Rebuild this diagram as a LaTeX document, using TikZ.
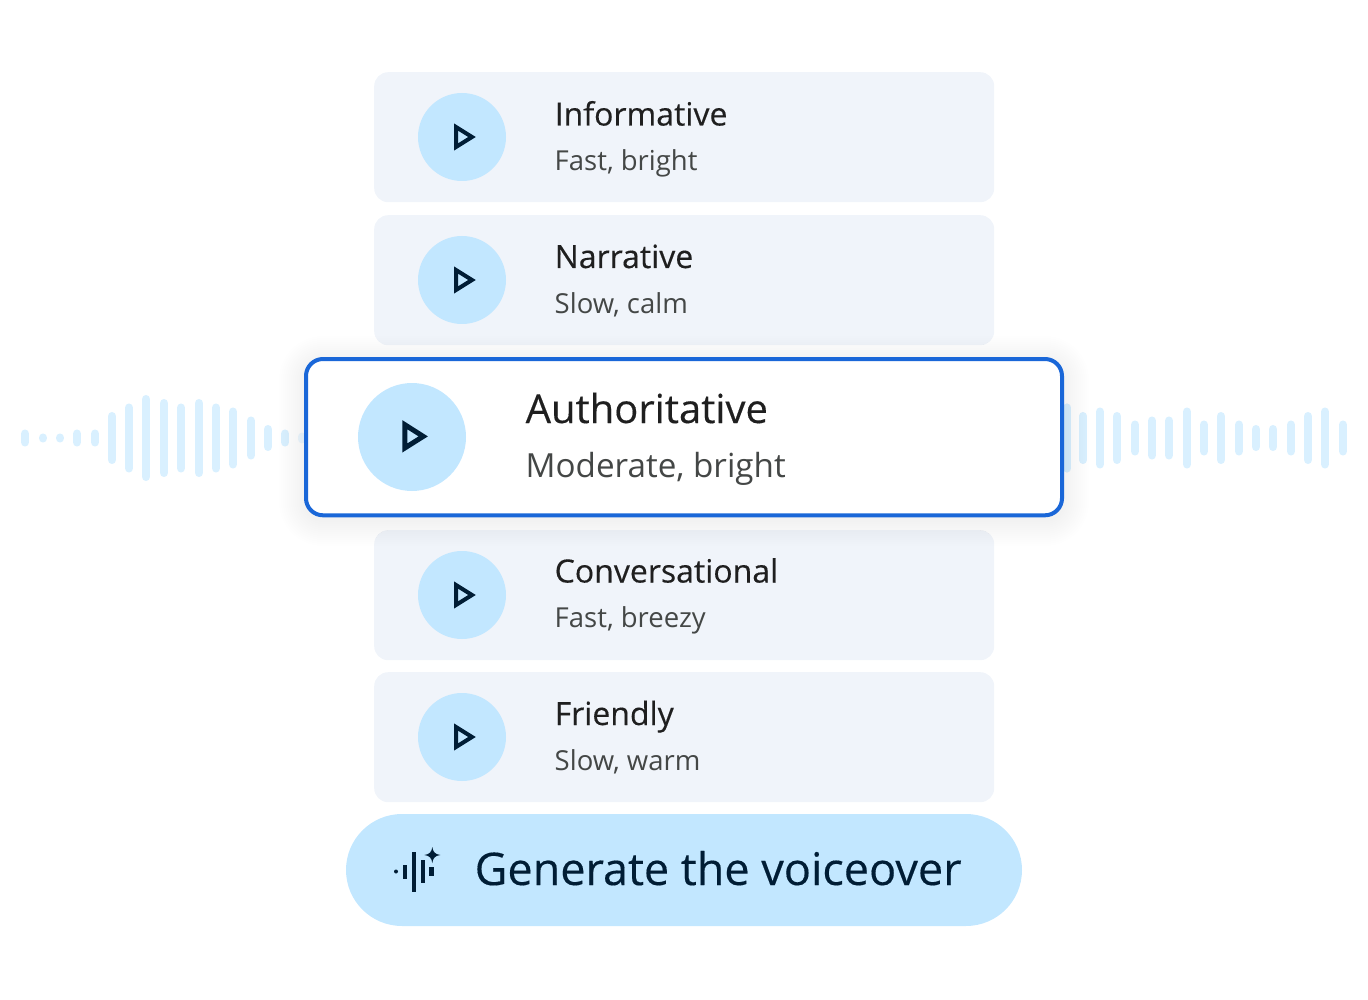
\documentclass[tikz,border=0pt]{standalone}
\usepackage{fontspec}
\setmainfont{Open Sans}
\newfontfamily\medfont[FakeBold=0.3]{Open Sans}
\definecolor{cardbg}{HTML}{F0F4FA}
\definecolor{btnblue}{HTML}{C2E7FF}
\definecolor{wavebar}{HTML}{D9F0FF}
\definecolor{edgeblue}{HTML}{1A67D8}
\definecolor{inkdark}{HTML}{001D35}
\definecolor{titleink}{HTML}{1F1F1F}
\definecolor{subink}{HTML}{444746}
\tikzset{
  card/.style={anchor=north west,minimum width=620pt,minimum height=130pt,rounded corners=14pt,fill=cardbg,inner sep=0pt},
  playdisc/.style={circle,fill=btnblue,minimum size=88pt,inner sep=0pt},
  title/.style={anchor=base west,inner sep=0pt,text=titleink,font=\medfont\fontsize{32}{36}\selectfont},
  subtitle/.style={anchor=base west,inner sep=0pt,text=subink,font=\fontsize{27.5}{32}\selectfont},
  playmark/.style={draw=inkdark,line width=4pt,miter limit=10},
  wave/.style={line width=8.7pt,line cap=round,draw=wavebar},
}
\begin{document}
\begin{tikzpicture}[x=1pt,y=-1pt]
\useasboundingbox (0,0) rectangle (1368,1000);
% sound wave, left and right
\foreach \xpos/\len in {25/17,43/9,60/9,77/17,95/17,112/52,129/69,146/86,164/78,181/69,199/78,216/69,233/61,251/43,268/26,285/17,
  1067/69,1083/52,1100/61,1117/52,1135/35,1152/43,1169/43,1187/61,1204/35,1221/52,1239/35,1256/26,1273/26,1291/35,1308/52,1325/61,1343/35}
  \draw[wave] (\xpos,438-\len/2+4.3) -- (\xpos,438+\len/2-4.3);
\draw[wave,opacity=0.5] (302,437) -- (302,439);
% the four plain cards
\foreach \name/\ypos/\head/\tail/\nudge in {inf/72/Informative/{Fast, bright}/1,nar/215/Narrative/{Slow, calm}/0,con/530/Conversational/{Fast, breezy}/-1,fri/672/Friendly/{Slow, warm}/0}{
  \node[card] (\name) at (374,\ypos) {};
  \node[playdisc] (\name disc) at (462,\ypos+65) {};
  \draw[playmark] (456,\ypos+55) -- (472,\ypos+65) -- (456,\ypos+75) -- cycle;
  \node[title] (\name head) at (554.5,\ypos+53+\nudge/2) {\head};
  \node[subtitle] (\name tail) at (554.5,\ypos+98+\nudge) {\tail};
}
% shadow of the selected card
\foreach \grow in {26,24,...,2}
  \fill[black,opacity=0.004,rounded corners=18pt+\grow] (305-\grow,362-\grow) rectangle (1063+\grow,520+\grow);
% selected card
\node[anchor=north west,minimum width=756pt,minimum height=156.3pt,rounded corners=17pt,fill=white,draw=edgeblue,line width=4pt,inner sep=0pt,outer sep=0pt] (auth) at (306,359) {};
\node[playdisc,minimum size=108pt] (authdisc) at (412,437) {};
\draw[playmark,line width=5pt] (404.8,424.7) -- (423.2,436.4) -- (404.8,448) -- cycle;
\node[title,font=\medfont\fontsize{40}{44}\selectfont] (authhead) at (525.5,423) {Authoritative};
\node[subtitle,font=\fontsize{33.2}{40}\selectfont] (authtail) at (525.5,477) {Moderate, bright};
% button
\node[minimum width=676pt,minimum height=112pt,rounded corners=56pt,fill=btnblue,inner sep=0pt] (gen) at (684,870) {};
\node[anchor=base west,inner sep=0pt,text=inkdark,font=\medfont\fontsize{45}{50}\selectfont] (gentext) at (474.5,885) {Generate the voiceover};
\fill[inkdark] (396,871.5) circle (2pt);
\fill[inkdark] (402.6,865) rectangle (406.8,879);
\fill[inkdark] (411.6,852) rectangle (415.8,892);
\fill[inkdark] (420.6,860.3) rectangle (424.8,883);
\fill[inkdark] (429.4,867) rectangle (433.6,876);
\fill[inkdark] (432.3,847) .. controls (433,852) and (435,854.3) .. (440.3,855) .. controls (435,855.7) and (433,858) .. (432.3,863) .. controls (431.6,858) and (429.6,855.7) .. (424.3,855) .. controls (429.6,854.3) and (431.6,852) .. (432.3,847) -- cycle;
\end{tikzpicture}
\end{document}
